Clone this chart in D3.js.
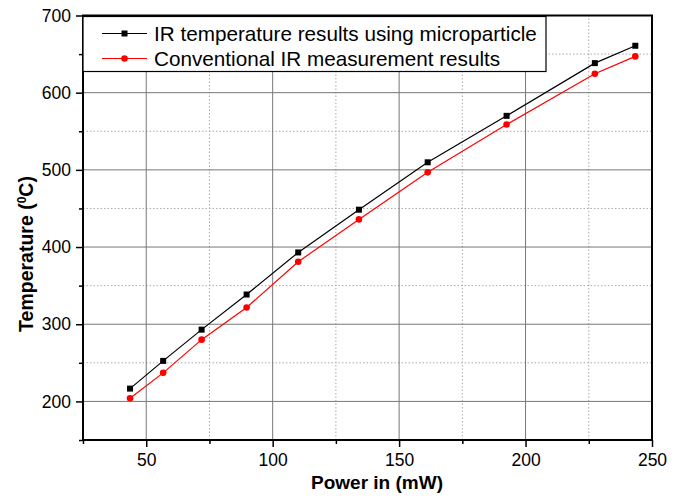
<!DOCTYPE html>
<html>
<head>
<meta charset="utf-8">
<script src="https://cdn.jsdelivr.net/npm/d3@7"></script>
<style>
  body { margin: 0; background: #fff; }
  svg { font-family: "Liberation Sans", Arial, sans-serif; }
</style>
</head>
<body>
<div id="svg-container"></div>
<script>
// data
const power = [43.6, 56.7, 71.9, 89.7, 110.1, 134.1, 161.3, 192.5, 227.4, 243.4];
const tempMicro = [216.6, 252.5, 293, 338.5, 393, 448.4, 509.8, 570, 638.3, 660.8];
const tempConv = [204, 237, 280, 321.7, 381, 435.8, 496.8, 558.7, 624.5, 647];
const xMajor = [50, 100, 150, 200, 250];
const xMinor = [25, 75, 125, 175, 225];
const yMajor = [200, 300, 400, 500, 600, 700];
const yMinor = [150, 250, 350, 450, 550, 650];
const seriesNames = ["IR temperature results using microparticle", "Conventional IR measurement results"];

const width = 682, height = 499;
const margin = { top: 15.5, right: 30, bottom: 59, left: 83 };

const svg = d3.select("#svg-container").append("svg")
  .attr("width", width).attr("height", height);

const xScale = d3.scaleLinear().domain([25, 250]).range([margin.left, width - margin.right]);
const yScale = d3.scaleLinear().domain([150, 700]).range([height - margin.bottom, margin.top]);

const x0 = xScale.range()[0], x1 = xScale.range()[1];
const y0 = yScale.range()[0], y1 = yScale.range()[1];

// grid
svg.append("g").selectAll("line").data(xMinor.filter(d => d > 25)).join("line")
  .attr("x1", d => xScale(d)).attr("x2", d => xScale(d))
  .attr("y1", y0).attr("y2", y1)
  .attr("stroke", "#aaa").attr("stroke-dasharray", "1.5,2");
svg.append("g").selectAll("line").data(yMinor.filter(d => d > 150)).join("line")
  .attr("y1", d => yScale(d)).attr("y2", d => yScale(d))
  .attr("x1", x0).attr("x2", x1)
  .attr("stroke", "#aaa").attr("stroke-dasharray", "1.5,2");
svg.append("g").selectAll("line").data(xMajor.filter(d => d < 250)).join("line")
  .attr("x1", d => xScale(d)).attr("x2", d => xScale(d))
  .attr("y1", y0).attr("y2", y1)
  .attr("stroke", "#777").attr("stroke-width", 1);
svg.append("g").selectAll("line").data(yMajor.filter(d => d < 700)).join("line")
  .attr("y1", d => yScale(d)).attr("y2", d => yScale(d))
  .attr("x1", x0).attr("x2", x1)
  .attr("stroke", "#777").attr("stroke-width", 1);

// axes
const xAxis = d3.axisBottom(xScale).tickValues(xMajor).tickSize(7).tickPadding(7);
const yAxis = d3.axisLeft(yScale).tickValues(yMajor).tickSize(7).tickPadding(5);
const xMinorAxis = d3.axisBottom(xScale).tickValues(xMinor).tickSize(4).tickFormat("");
const yMinorAxis = d3.axisLeft(yScale).tickValues(yMinor).tickSize(4).tickFormat("");

function styleAxis(g) {
  g.select(".domain").remove();
  g.selectAll("line").attr("stroke", "#000").attr("stroke-width", 1.5);
  g.selectAll("text").attr("fill", "#000").style("font-size", "17.5px");
}

svg.append("g").attr("transform", `translate(0,${y0})`).call(xAxis).call(styleAxis);
svg.append("g").attr("transform", `translate(0,${y0})`).call(xMinorAxis).call(styleAxis);
svg.append("g").attr("transform", `translate(${x0},0)`).call(yAxis).call(styleAxis);
svg.append("g").attr("transform", `translate(${x0},0)`).call(yMinorAxis).call(styleAxis);

// frame
svg.append("rect")
  .attr("x", x0).attr("y", y1)
  .attr("width", x1 - x0).attr("height", y0 - y1)
  .attr("fill", "none").attr("stroke", "#000").attr("stroke-width", 2);

// axis titles
svg.append("text")
  .attr("x", 377).attr("y", 489)
  .attr("text-anchor", "middle")
  .style("font-size", "19px").style("font-weight", "bold")
  .text("Power in (mW)");

const yTitle = svg.append("text")
  .attr("transform", "translate(33,254) rotate(-90)")
  .attr("text-anchor", "middle")
  .style("font-size", "19.5px").style("font-weight", "bold");
yTitle.append("tspan").text("Temperature (");
yTitle.append("tspan").attr("dy", -7).style("font-size", "12px").text("0");
yTitle.append("tspan").attr("dy", 7).text("C)");

// lines
const line = d3.line().x(d => xScale(d[0])).y(d => yScale(d[1]));
const micro = power.map((p, i) => [p, tempMicro[i]]);
const conv = power.map((p, i) => [p, tempConv[i]]);

svg.append("path").datum(micro).attr("d", line)
  .attr("fill", "none").attr("stroke", "#000").attr("stroke-width", 1.2);
svg.append("path").datum(conv).attr("d", line)
  .attr("fill", "none").attr("stroke", "#ff0000").attr("stroke-width", 1.2);

svg.append("g").selectAll("rect").data(micro).join("rect")
  .attr("x", d => xScale(d[0]) - 3).attr("y", d => yScale(d[1]) - 3)
  .attr("width", 6).attr("height", 6).attr("fill", "#000");
svg.append("g").selectAll("circle").data(conv).join("circle")
  .attr("cx", d => xScale(d[0])).attr("cy", d => yScale(d[1]))
  .attr("r", 3.3).attr("fill", "#ff0000");

// legend
const legend = svg.append("g");
legend.append("rect")
  .attr("x", x0).attr("y", y1 + 1)
  .attr("width", 463).attr("height", 55)
  .attr("fill", "#fff").attr("stroke", "#000").attr("stroke-width", 1.2);
const colors = ["#000", "#ff0000"];
seriesNames.forEach((name, i) => {
  const ly = 33.5 + i * 25;
  legend.append("line")
    .attr("x1", 102).attr("x2", 147).attr("y1", ly).attr("y2", ly)
    .attr("stroke", colors[i]).attr("stroke-width", 1.2);
  if (i === 0) {
    legend.append("rect").attr("x", 121.5).attr("y", ly - 3).attr("width", 6).attr("height", 6).attr("fill", "#000");
  } else {
    legend.append("circle").attr("cx", 124.5).attr("cy", ly).attr("r", 3.3).attr("fill", "#ff0000");
  }
  legend.append("text")
    .attr("x", 154).attr("y", ly + 7)
    .style("font-size", "20.7px")
    .text(name);
});
</script>
</body>
</html>
